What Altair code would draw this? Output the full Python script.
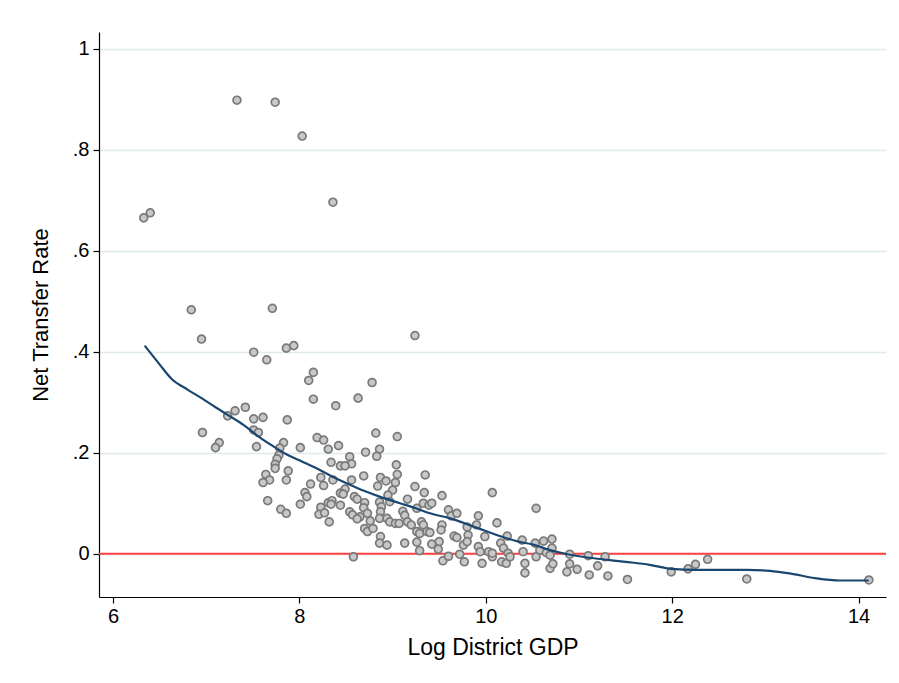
import altair as alt
import pandas as pd

# Scatter: log district GDP vs net transfer rate
gdp = [7.33, 7.74, 8.03, 8.36, 6.33, 6.40, 6.84, 6.95, 7.71, 7.51, 7.65, 7.86, 7.94, 9.24,
       8.15, 8.10, 8.15, 7.42, 7.31, 7.23, 7.51, 7.61, 7.87, 6.96, 7.51, 7.56, 7.14, 7.10,
       7.54, 7.83, 7.79, 7.78, 7.76, 7.74, 7.74, 8.01, 8.19, 8.26, 8.31, 7.88, 7.86, 7.64,
       7.68, 7.61, 8.12, 8.23, 8.26, 8.06, 8.08, 7.66, 8.01, 7.80, 7.86, 8.23, 8.31, 8.21,
       8.27, 8.32, 8.78, 8.63, 8.39, 8.82, 9.05, 8.42, 8.71, 8.86, 8.83, 8.54, 8.56, 8.34,
       8.44, 8.49, 9.04, 9.05, 8.36, 8.56, 8.69, 8.87, 8.93, 8.84, 9.03, 9.00, 9.35, 9.24,
       8.49, 8.44, 8.47, 8.59, 8.62, 8.35, 8.34, 8.44, 8.54, 8.57, 8.65, 8.62, 8.70, 8.69,
       8.73, 8.76, 8.70, 8.73, 8.79, 8.86, 8.88, 8.87, 8.86, 8.94, 8.97, 9.03, 9.07, 8.95,
       8.97, 9.11, 9.13, 9.16, 9.16, 9.26, 9.33, 9.31, 9.33, 9.34, 9.26, 9.29, 9.37, 8.87,
       8.86, 8.94, 9.13, 9.26, 9.29, 8.58, 9.53, 9.60, 9.53, 9.52, 9.50, 9.42, 9.49, 9.54,
       9.60, 9.40, 9.39, 9.42, 9.20, 9.63, 9.69, 9.66, 9.69, 9.76, 9.81, 9.80, 9.72, 9.77,
       9.80, 9.90, 9.92, 9.99, 9.92, 9.94, 9.96, 10.07, 10.12, 10.03, 10.07, 10.07, 10.16,
       10.19, 10.23, 10.17, 10.22, 10.24, 10.26, 10.39, 10.40, 10.42, 10.42, 10.54, 10.53,
       10.54, 10.62, 10.58, 10.65, 10.69, 10.71, 10.71, 10.69, 10.72, 10.90, 11.10, 11.28,
       11.20, 10.90, 10.98, 10.87, 11.11, 11.31, 11.52, 11.99, 12.17, 12.25, 12.38, 12.80,
       14.11]
rate = [0.898, 0.894, 0.827, 0.696, 0.665, 0.675, 0.483, 0.425, 0.486, 0.399, 0.384, 0.407,
        0.412, 0.432, 0.359, 0.343, 0.306, 0.290, 0.283, 0.273, 0.267, 0.270, 0.265, 0.240,
        0.245, 0.240, 0.220, 0.210, 0.212, 0.220, 0.209, 0.195, 0.188, 0.177, 0.169, 0.210,
        0.230, 0.225, 0.207, 0.164, 0.146, 0.157, 0.146, 0.141, 0.138, 0.151, 0.135, 0.121,
        0.113, 0.105, 0.098, 0.088, 0.080, 0.092, 0.101, 0.078, 0.081, 0.063, 0.339, 0.308,
        0.293, 0.239, 0.232, 0.214, 0.201, 0.207, 0.193, 0.192, 0.178, 0.181, 0.174, 0.174,
        0.176, 0.157, 0.146, 0.146, 0.154, 0.151, 0.144, 0.134, 0.141, 0.126, 0.156, 0.133,
        0.128, 0.120, 0.118, 0.113, 0.108, 0.105, 0.098, 0.096, 0.083, 0.077, 0.073, 0.069,
        0.101, 0.091, 0.080, 0.065, 0.050, 0.044, 0.050, 0.102, 0.093, 0.083, 0.070, 0.070,
        0.063, 0.060, 0.060, 0.116, 0.103, 0.084, 0.076, 0.063, 0.108, 0.090, 0.100, 0.063,
        0.057, 0.121, 0.044, 0.040, 0.044, 0.034, 0.021, 0.017, 0.021, 0.023, 0.006, -0.006,
        0.115, 0.087, 0.057, 0.047, 0.024, 0.019, 0.009, -0.014, -0.005, 0.042, 0.096, 0.100,
        0.057, 0.075, 0.080, 0.035, 0.032, 0.017, 0.037, 0.024, -0.001, -0.016, 0.053, 0.057,
        0.075, 0.034, 0.014, 0.004, -0.019, 0.121, 0.061, 0.004, -0.006, 0.001, 0.021, 0.011,
        0.035, -0.016, -0.019, 0.001, -0.006, 0.027, 0.004, -0.019, -0.038, 0.090, 0.021,
        -0.006, 0.025, 0.007, 0.002, -0.029, 0.029, 0.011, -0.003, -0.020, -0.001, -0.004,
        -0.006, -0.024, -0.020, -0.031, -0.036, -0.042, -0.044, -0.051, -0.036, -0.030,
        -0.021, -0.011, -0.050, -0.052]

# Lowess smooth
fit_x = [6.34, 6.50, 6.63, 6.80, 6.95, 7.10, 7.23, 7.40, 7.54, 7.70, 7.85, 8.00, 8.15, 8.33,
         8.50, 8.70, 8.86, 9.08, 9.25, 9.40, 9.62, 9.85, 10.00, 10.15, 10.35, 10.51, 10.69,
         10.85, 11.00, 11.20, 11.40, 11.55, 11.76, 11.99, 12.26, 12.80, 13.05, 13.26, 13.55,
         13.80, 14.11]
fit_y = [0.412, 0.375, 0.346, 0.325, 0.308, 0.290, 0.275, 0.255, 0.235, 0.215, 0.198, 0.185,
         0.172, 0.155, 0.140, 0.124, 0.113, 0.100, 0.090, 0.080, 0.070, 0.055, 0.045, 0.035,
         0.024, 0.018, 0.007, 0.000, -0.005, -0.010, -0.014, -0.017, -0.022, -0.030, -0.032,
         -0.032, -0.034, -0.039, -0.049, -0.053, -0.053]

x_ticks = [6, 8, 10, 12, 14]
y_ticks = [0, 0.2, 0.4, 0.6, 0.8, 1]
ref_line = [0]

FONT = "Liberation Sans"

pts = pd.DataFrame({"gdp": gdp, "rate": rate})
fit = pd.DataFrame({"gdp": fit_x, "rate": fit_y})
ref = pd.DataFrame({"y": ref_line})

xscale = alt.Scale(domain=[5.85, 14.294], nice=False, zero=False)
yscale = alt.Scale(domain=[-0.0857, 1.033], nice=False, zero=False)

xaxis = alt.Axis(values=x_ticks, title="Log District GDP", grid=False, format="d",
                 labelFontSize=20, titleFontSize=23, labelFont=FONT, titleFont=FONT,
                 labelColor="black", titleColor="black", titleFontWeight="normal",
                 domainColor="black", domainWidth=1.2, tickColor="black", tickWidth=1.2,
                 tickSize=6, labelPadding=3, titlePadding=10, labelFlush=False)
yaxis = alt.Axis(values=y_ticks, title="Net Transfer Rate", grid=True, gridColor="#e0eaee",
                 gridWidth=1.3,
                 labelExpr="datum.value == 0 ? '0' : (datum.value == 1 ? '1' : '.' + format(datum.value * 10, 'd'))",
                 labelFontSize=20, titleFontSize=22, labelFont=FONT, titleFont=FONT,
                 labelColor="black", titleColor="black", titleFontWeight="normal",
                 domainColor="black", domainWidth=1.2, tickColor="black", tickWidth=1.2,
                 tickSize=6, labelPadding=4, titlePadding=20, labelFlush=False)

rule = alt.Chart(ref).mark_rule(color="#ff4040", strokeWidth=2).encode(
    y=alt.Y("y:Q", scale=yscale, axis=yaxis)
)
scatter = alt.Chart(pts).mark_point(
    shape="circle", filled=True, fill="#c8c8c8", stroke="#7a7a7a", strokeWidth=1.7,
    size=62, opacity=1
).encode(
    x=alt.X("gdp:Q", scale=xscale, axis=xaxis),
    y=alt.Y("rate:Q", scale=yscale, axis=yaxis),
)
line = alt.Chart(fit).mark_line(color="#1a476f", strokeWidth=2.2, interpolate="monotone").encode(
    x=alt.X("gdp:Q", scale=xscale, axis=xaxis),
    y=alt.Y("rate:Q", scale=yscale, axis=yaxis),
)

chart = alt.layer(rule, scatter, line).properties(
    width=787, height=565,
    autosize=alt.AutoSizeParams(type="none"),
    padding={"left": 99, "top": 32, "right": 13, "bottom": 86},
    background="white",
).configure_view(stroke=None)

chart.save("out.html", embed_options={"renderer": "svg", "actions": False})
